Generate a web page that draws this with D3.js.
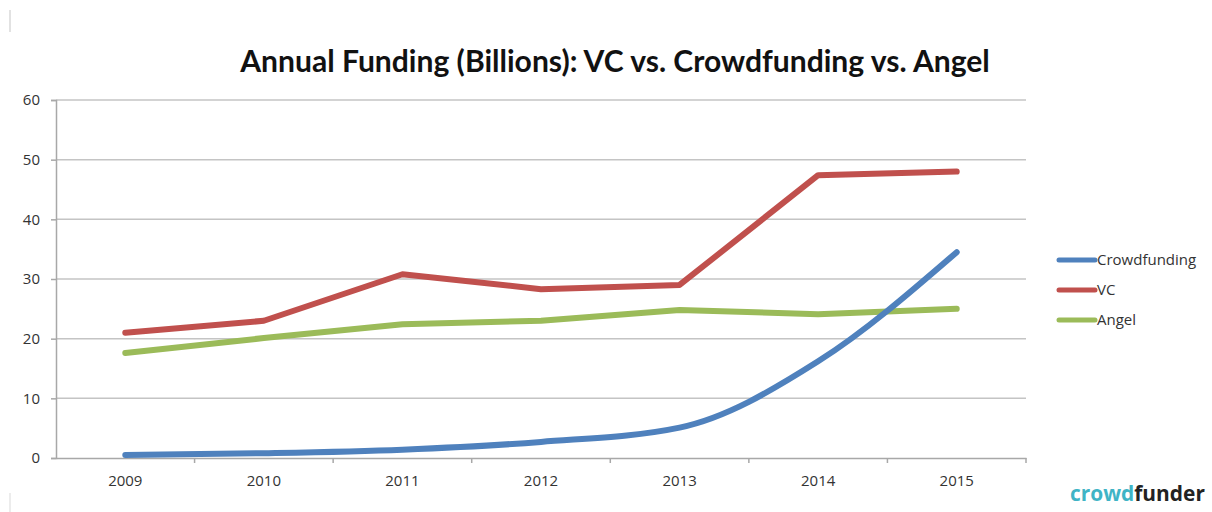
<!DOCTYPE html>
<html>
<head>
<meta charset="utf-8">
<script src="https://cdn.jsdelivr.net/npm/d3@7"></script>
<style>
  html, body { margin: 0; padding: 0; background: #fff; }
  svg { display: block; }
</style>
</head>
<body>
<div id="chart"></div>
<script>
// data
const years = ["2009", "2010", "2011", "2012", "2013", "2014", "2015"];
const crowdfunding = [0.5, 0.8, 1.4, 2.7, 5.1, 16.2, 34.5];
const vc = [21, 23, 30.8, 28.3, 29, 47.4, 48];
const angel = [17.6, 20.1, 22.4, 23, 24.8, 24.1, 25];
const yTicks = [0, 10, 20, 30, 40, 50, 60];
const seriesNames = ["Crowdfunding", "VC", "Angel"];
const seriesColors = ["#4f81bd", "#c0504d", "#9bbb59"];

const W = 1212, H = 512;
const margin = { top: 100, right: 186, bottom: 54, left: 56 };

const svg = d3.select("#chart")
  .append("svg")
  .attr("width", W)
  .attr("height", H);

// faint marks at the left edge of the screenshot
svg.append("line")
  .attr("x1", 10).attr("x2", 10).attr("y1", 10).attr("y2", 32)
  .attr("stroke", "#e2e2e2").attr("stroke-width", 2);
svg.append("line")
  .attr("x1", 10).attr("x2", 10).attr("y1", 493).attr("y2", 512)
  .attr("stroke", "#ececec").attr("stroke-width", 2);

const x = d3.scaleBand()
  .domain(years)
  .range([margin.left, W - margin.right]);

const y = d3.scaleLinear()
  .domain([0, 60])
  .range([H - margin.bottom, margin.top]);

// gridlines
svg.append("g")
  .selectAll("line")
  .data(yTicks.filter(d => d > 0))
  .enter()
  .append("line")
  .attr("x1", margin.left)
  .attr("x2", W - margin.right)
  .attr("y1", d => y(d))
  .attr("y2", d => y(d))
  .attr("stroke", "#c4c4c4")
  .attr("stroke-width", 1.5);

// y axis
const yAxis = svg.append("g")
  .attr("transform", `translate(${margin.left},0)`)
  .call(d3.axisLeft(y).tickValues(yTicks).tickSize(5).tickPadding(11));
yAxis.selectAll("line, path").attr("stroke", "#a8a8a8").attr("stroke-width", 1.5);

// x axis, ticks on band edges
const xAxis = svg.append("g")
  .attr("transform", `translate(0,${y(0)})`)
  .call(d3.axisBottom(x).tickSize(0).tickPadding(17));
xAxis.select("path").attr("stroke", "#a8a8a8").attr("stroke-width", 1.5);
xAxis.append("g")
  .selectAll("line")
  .data(years.slice(1).concat(["end"]))
  .enter()
  .append("line")
  .attr("x1", (d, i) => x(years[0]) + x.step() * (i + 1))
  .attr("x2", (d, i) => x(years[0]) + x.step() * (i + 1))
  .attr("y1", 0).attr("y2", 5)
  .attr("stroke", "#a8a8a8").attr("stroke-width", 1.5);

// tick label font
[yAxis, xAxis].forEach(a => a
  .attr("font-family", "Open Sans, sans-serif")
  .attr("font-size", 15)
  .selectAll("text").attr("fill", "#333"));

// lines
const series = [crowdfunding, vc, angel];
const curves = [d3.curveMonotoneX, d3.curveLinear, d3.curveLinear];
series.forEach((vals, i) => {
  const line = d3.line()
    .x((d, j) => x(years[j]) + x.bandwidth() / 2)
    .y(d => y(d))
    .curve(curves[i]);
  svg.append("path")
    .datum(vals)
    .attr("class", "series s" + i)
    .attr("fill", "none")
    .attr("stroke", seriesColors[i])
    .attr("stroke-width", 6)
    .attr("stroke-linecap", "round")
    .attr("stroke-linejoin", "round")
    .attr("d", line);
});

// crowdfunding sits on top of the others, as in the picture
svg.select(".s0").raise();

// legend
const legend = svg.append("g").attr("transform", "translate(1057,260)");
seriesNames.forEach((name, i) => {
  const g = legend.append("g").attr("transform", `translate(0,${i * 30})`);
  g.append("line")
    .attr("x1", 2).attr("x2", 38)
    .attr("stroke", seriesColors[i])
    .attr("stroke-width", 5)
    .attr("stroke-linecap", "round");
  g.append("text")
    .attr("x", 40).attr("y", 5)
    .attr("font-family", "Open Sans, sans-serif")
    .attr("font-size", 15)
    .attr("fill", "#333")
    .text(name);
});

// title, fitted to the width it takes in the picture
const title = svg.append("text")
  .attr("x", 615)
  .attr("y", 72)
  .attr("text-anchor", "middle")
  .attr("font-family", "Lato, sans-serif")
  .attr("font-weight", "bold")
  .attr("font-size", 22)
  .attr("fill", "#111")
  .text("Annual Funding (Billions): VC vs. Crowdfunding vs. Angel");
const tw = title.node().getComputedTextLength();
title.attr("font-size", 22 * 750 / tw);

// crowdfunder mark
const logo = svg.append("text")
  .attr("x", 1070)
  .attr("y", 501)
  .attr("font-family", "Open Sans, sans-serif")
  .attr("font-weight", "bold")
  .attr("font-size", 19);
logo.append("tspan").attr("fill", "#3fb4c6").text("crowd");
logo.append("tspan").attr("fill", "#222").text("funder");
const lw = logo.node().getComputedTextLength();
logo.attr("font-size", 19 * 135 / lw);
</script>
</body>
</html>
